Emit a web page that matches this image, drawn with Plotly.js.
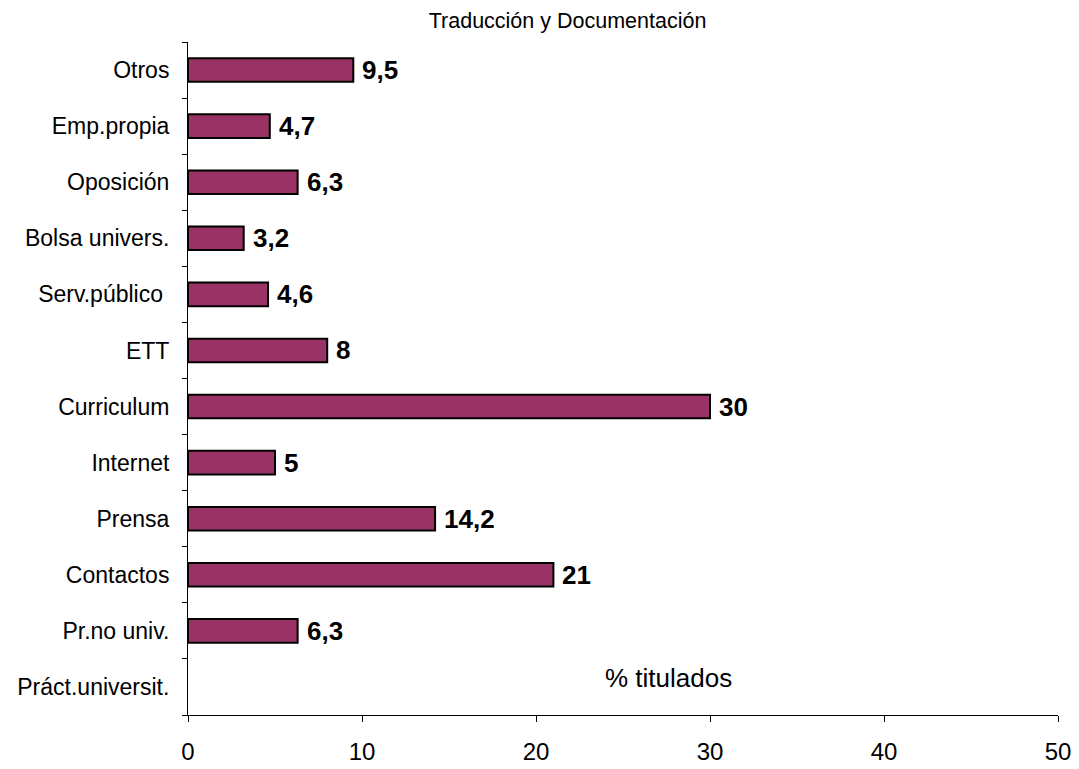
<!DOCTYPE html>
<html><head><meta charset="utf-8">
<script src="https://cdn.plot.ly/plotly-3.0.1.min.js"></script>
<style>html,body{margin:0;padding:0;background:#fff}#chart{width:1079px;height:769px}</style>
</head><body><div id="chart"></div>
<script>
const categories = ["Práct.universit.","Pr.no univ.","Contactos","Prensa","Internet","Curriculum","ETT","Serv.público\u00a0","Bolsa univers.","Oposición","Emp.propia","Otros"];
const values = [null, 6.3, 21, 14.2, 5, 30, 8, 4.6, 3.2, 6.3, 4.7, 9.5];
const xTicks = [0, 10, 20, 30, 40, 50];
const labels = values.map(v => v === null ? "" : String(v).replace(".", ","));
const font = "Liberation Sans, Arial, sans-serif";
const valueAnnotations = categories.map((c, i) => ({
  text: labels[i], xref: "x", yref: "y", x: values[i] === null ? 0 : values[i], y: c,
  xanchor: "left", yanchor: "middle", xshift: 7, showarrow: false,
  font: {family: font, size: 26, color: "#000", weight: "bold"}
})).filter(a => a.text !== "");
Plotly.newPlot("chart", [{
  type: "bar", orientation: "h", y: categories, x: values,
  marker: {color: "#993366", line: {color: "#000", width: 2}},
  hoverinfo: "none"
}], {
  width: 1079, height: 769,
  margin: {l: 188, r: 21, t: 42, b: 54},
  paper_bgcolor: "#fff", plot_bgcolor: "#fff",
  bargap: 0.58, showlegend: false,
  title: {text: "Traducción y Documentación", font: {family: font, size: 21.5, color: "#000"}, x: 0.526, xanchor: "center", y: 0.974, yanchor: "middle"},
  xaxis: {range: [0, 50], tickvals: xTicks, ticktext: xTicks.map(String), ticks: "outside", ticklen: 6, tickcolor: "#000", showgrid: false, zeroline: false, showline: true, linecolor: "#000", linewidth: 1, tickfont: {family: font, size: 24, color: "#000"}, ticklabelstandoff: 9, fixedrange: true},
  yaxis: {type: "category", ticks: "outside", tickson: "boundaries", ticklen: 5, tickcolor: "#000", showgrid: false, showline: true, linecolor: "#000", linewidth: 1, tickfont: {family: font, size: 23, color: "#000"}, ticklabelstandoff: 13, fixedrange: true},
  annotations: [{text: "% titulados", xref: "x", yref: "y", x: 27.6, y: categories[0], yshift: 9, showarrow: false, font: {family: font, size: 26, color: "#000"}}].concat(valueAnnotations)
}, {staticPlot: true});
</script></body></html>
